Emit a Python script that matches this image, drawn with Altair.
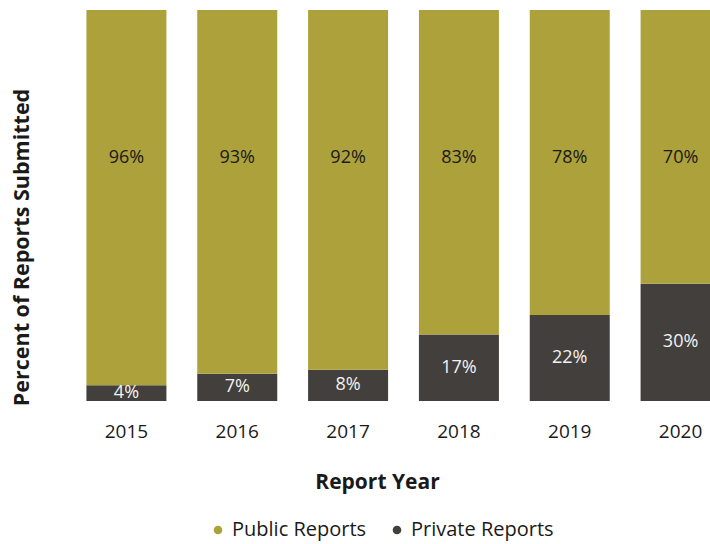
import altair as alt
import pandas as pd

years = ["2015", "2016", "2017", "2018", "2019", "2020"]
public_pct = [96, 93, 92, 83, 78, 70]
private_pct = [4, 7, 8, 17, 22, 30]
series = ["Public Reports", "Private Reports"]
colors = ["#ADA13C", "#433F3C"]

rows = []
for y, pu, pr in zip(years, public_pct, private_pct):
    rows.append({"year": y, "type": "Private Reports", "value": pr, "ord": 0})
    rows.append({"year": y, "type": "Public Reports", "value": pu, "ord": 1})
df = pd.DataFrame(rows)

FONT = "Open Sans"

x_enc = alt.X(
    "year:N",
    sort=years,
    scale=alt.Scale(range=[0, 665], paddingInner=0.278, paddingOuter=0.139),
    axis=alt.Axis(
        labelAngle=0, domain=False, ticks=False, grid=False,
        labelFontSize=19, labelColor="#1a1a1a", labelFont=FONT, labelPadding=21,
        title="Report Year", titleFontSize=21, titleFontWeight="bold",
        titleFont=FONT, titleColor="#1a1a1a",
        titleX=306, titleY=81, titleBaseline="middle",
    ),
)

y_scale = alt.Scale(domain=[0, 100], nice=False)

bars = alt.Chart(df).mark_bar(size=80).encode(
    x=x_enc,
    y=alt.Y(
        "value:Q", stack="zero", scale=y_scale,
        axis=alt.Axis(
            labels=False, ticks=False, domain=False, grid=False,
            title="Percent of Reports Submitted", titleFontSize=21.5,
            titleFontWeight="bold", titleFont=FONT, titleColor="#1a1a1a",
            titleX=-49, titleY=237, titleBaseline="middle", titleAngle=270,
        ),
    ),
    color=alt.Color(
        "type:N",
        scale=alt.Scale(domain=series, range=colors),
        legend=alt.Legend(
            title=None, orient="none", direction="horizontal", columns=2,
            legendX=137, legendY=510, symbolType="circle", symbolSize=75,
            labelFontSize=20, labelFont=FONT, labelColor="#1a1a1a",
            labelOffset=4, columnPadding=20,
        ),
    ),
    order=alt.Order("ord:Q", sort="ascending"),
)

priv_labels = (
    alt.Chart(df)
    .transform_filter(alt.datum.type == "Private Reports")
    .transform_calculate(mid="datum.value / 2", lbl="datum.value + '%'")
    .mark_text(fontSize=18, font=FONT, color="#f2f2f2", baseline="middle")
    .encode(x=alt.X("year:N", sort=years), y=alt.Y("mid:Q", scale=y_scale), text="lbl:N")
)

pub_labels = (
    alt.Chart(df)
    .transform_filter(alt.datum.type == "Public Reports")
    .transform_calculate(lbl="datum.value + '%'")
    .mark_text(fontSize=18, font=FONT, color="#1a1a1a", baseline="middle")
    .encode(x=alt.X("year:N", sort=years), y=alt.datum(62.2), text="lbl:N")
)

chart = (
    alt.layer(bars, priv_labels, pub_labels)
    .properties(
        width=639, height=391,
        padding={"left": 71, "top": 10, "right": 0, "bottom": 143},
        autosize="none",
    )
    .configure_view(stroke=None)
)

chart.save("out.html", embed_options={"renderer": "svg", "actions": False})
